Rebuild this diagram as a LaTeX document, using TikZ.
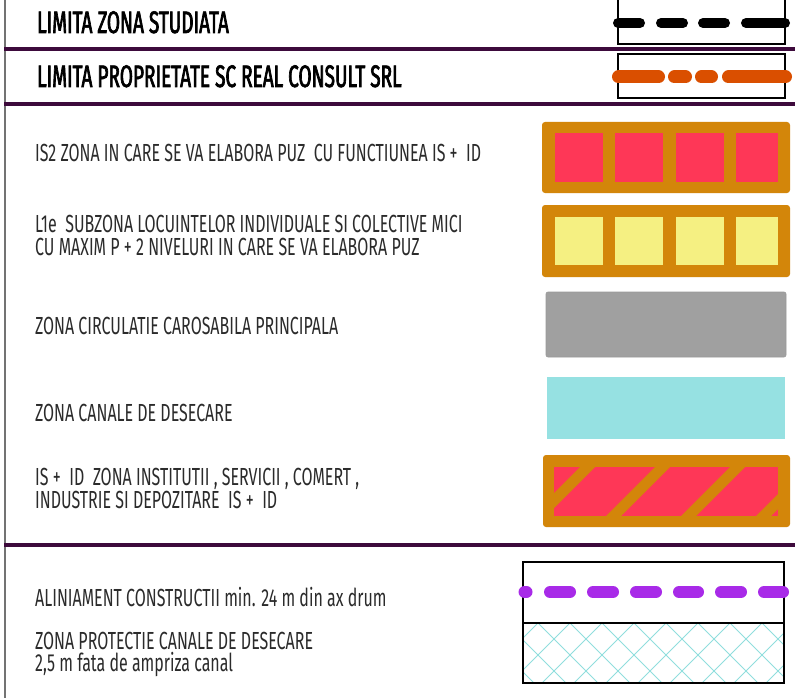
\documentclass[tikz,border=0pt]{standalone}
\usepackage{fontspec}
\setmainfont{Fira Sans}[FakeStretch=0.647]
\newfontfamily\hdfont{Fira Sans}[FakeStretch=0.613, FakeBold=2.2]
\definecolor{sepc}{HTML}{3D0A3C}
\definecolor{framec}{HTML}{D3860A}
\definecolor{redc}{HTML}{FE3757}
\definecolor{yelc}{HTML}{F5F082}
\definecolor{grayc}{HTML}{A0A0A0}
\definecolor{cyanc}{HTML}{96E1E2}
\definecolor{hatchc}{HTML}{90DEDD}
\definecolor{orlinec}{HTML}{DA4F00}
\definecolor{pulinec}{HTML}{A82AE8}
\definecolor{txtc}{HTML}{2B2B2B}
\tikzset{
  lbl/.style={anchor=base west, inner sep=0pt, text height=15pt, text depth=3pt,
    font=\fontsize{24.7}{27}\selectfont, text=txtc},
  lbltwo/.style={anchor=base west, inner sep=0pt, align=left,
    font=\fontsize{24.7}{21}\selectfont, text=txtc},
  hdr/.style={anchor=base west, inner sep=0pt, text height=18pt, text depth=3pt,
    font=\hdfont\fontsize{31}{34}\selectfont, text=black},
  sepline/.style={draw=sepc, line width=4pt},
  legbox/.style={draw=black, line width=1.5pt},
  blackdash/.style={draw=black, line width=10pt, line cap=round},
  orangedash/.style={draw=orlinec, line width=13pt, line cap=round},
  purpledash/.style={draw=pulinec, line width=12pt, line cap=round},
  frameout/.style={fill=framec, rounded corners=3pt},
}
\begin{document}
\begin{tikzpicture}[x=1pt,y=-1pt]
\useasboundingbox (0,0) rectangle (795,698);
\fill[white] (0,0) rectangle (795,698);

% left border and separators
\draw[draw=black!55, line width=2pt] (5,0) -- (5,698);
\draw[sepline] (4,49) -- (795,49);
\draw[sepline] (4,104) -- (795,104);
\draw[sepline] (4,545) -- (795,545);

% headers
\node[hdr] (h1) at (37,33) {LIMITA ZONA STUDIATA};
\node[hdr] (h2) at (37,87) {LIMITA PROPRIETATE SC REAL CONSULT SRL};

% legend 1: black dashed
\draw[legbox] (618,-1) rectangle (785,44);
\draw[blackdash] (618,23) -- (640,23);
\draw[blackdash] (661,23) -- (683,23);
\draw[blackdash] (703,23) -- (725,23);
\draw[blackdash] (746,23) -- (785,23);

% legend 2: orange dashed
\draw[legbox] (618,54) rectangle (785,98);
\draw[orangedash] (618.5,77) -- (658.5,77);
\draw[orangedash] (674.5,77) -- (685.5,77);
\draw[orangedash] (701.5,77) -- (711.5,77);
\draw[orangedash] (728.5,77) -- (785.5,77);

% body texts
\node[lbl] (t1) at (35,161) {IS2 ZONA IN CARE SE VA ELABORA PUZ\ \ CU FUNCTIUNEA IS +\ \ ID};
\node[lbl] (t2a) at (35,232) {L1e\ \ SUBZONA LOCUINTELOR INDIVIDUALE SI COLECTIVE MICI};
\node[lbl] (t2b) at (35,255) {CU MAXIM P + 2 NIVELURI IN CARE SE VA ELABORA PUZ};
\node[lbl] (t3) at (35,334) {ZONA CIRCULATIE CAROSABILA PRINCIPALA};
\node[lbl] (t4) at (35,421) {ZONA CANALE DE DESECARE};
\node[lbltwo] (t5) at (35,508) {IS +\ \ ID\ \ ZONA INSTITUTII , SERVICII , COMERT ,\\INDUSTRIE SI DEPOZITARE\ \ IS +\ \ ID};
\node[lbl] (t6) at (35,606) {ALINIAMENT CONSTRUCTII min. 24 m din ax drum};
\node[lbltwo, font=\fontsize{24.7}{22}\selectfont] (t7) at (35,671) {ZONA PROTECTIE CANALE DE DESECARE\\2,5 m fata de ampriza canal};

% legend 3: red cells
\fill[frameout] (542,122) rectangle (790,193);
\foreach \a/\b in {555/603,615/663,676/724,736/778}
  \fill[redc] (\a,133) rectangle (\b,182);

% legend 4: yellow cells
\fill[frameout] (542,205) rectangle (790,277);
\foreach \a/\b in {555/603,615/663,676/724,736/778}
  \fill[yelc] (\a,217) rectangle (\b,265);

% legend 5: gray
\filldraw[fill=grayc, draw=black!40, line width=0.6pt, rounded corners=2pt] (546,292) rectangle (786,357);

% legend 6: cyan
\fill[cyanc] (547,377) rectangle (785,439);

% legend 7: hatched
\fill[frameout] (543,455) rectangle (790,527);
\fill[redc] (554,467) rectangle (778,516);
\begin{scope}
  \clip (554,467) rectangle (778,516);
  \foreach \x in {512.5,587.5,662.5,737.5,812.5}
    \draw[framec, line width=10.6pt] ({\x-60},527) -- ({\x+20},447);
\end{scope}

% legend 8: alignment + protection
\begin{scope}
  \clip (523,623) rectangle (784,683);
  \foreach \k in {-3,...,10} {
    \draw[hatchc, line width=1pt] ({538+32*\k},623) -- ({598+32*\k},683);
    \draw[hatchc, line width=1pt] ({538+32*\k},623) -- ({478+32*\k},683);
  }
\end{scope}
\draw[legbox] (523,562) rectangle (784,623);
\draw[legbox] (523,623) rectangle (784,683);
\draw[purpledash] (524.5,592) -- (526.5,592);
\foreach \a/\b in {550/570,593/613,636/656,679/698,721/741,764/783}
  \draw[purpledash] (\a,592) -- (\b,592);
\end{tikzpicture}
\end{document}
